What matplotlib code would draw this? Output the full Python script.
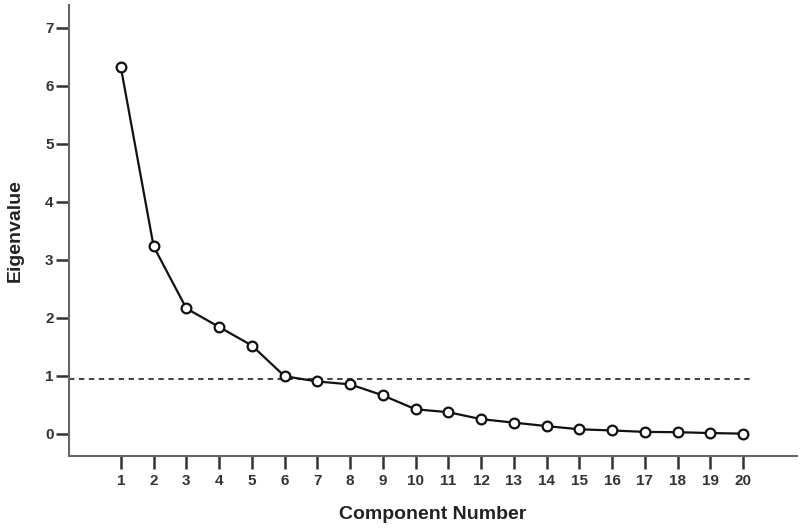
import matplotlib
matplotlib.use("Agg")
import matplotlib.pyplot as plt

plt.rcParams['font.family'] = ['Liberation Sans', 'DejaVu Sans']

# scree plot values
components = list(range(1, 21))
eigenvalues = [6.32, 3.23, 2.16, 1.84, 1.52, 0.99, 0.90, 0.85, 0.66, 0.42,
               0.37, 0.25, 0.19, 0.13, 0.075, 0.055, 0.03, 0.025, 0.01, 0.0]
cutoff = 0.95
y_ticks = list(range(0, 8))

fig = plt.figure(figsize=(8, 5.28), dpi=100)
ax = fig.add_axes([0.086, 0.137, 0.91, 0.853])

ax.axhline(cutoff, xmin=0, xmax=(20.26 + 0.59) / (21.64 + 0.59),
           color='#333333', lw=1.3, ls=(0, (3, 2.5)))
ax.plot(components, eigenvalues, color='#111111', lw=1.6, marker='o',
        markersize=7, markerfacecolor='white', markeredgecolor='#111111',
        markeredgewidth=1.6)

ax.set_xlim(-0.59, 21.64)
ax.set_ylim(-0.38, 7.39)
ax.set_xticks(components)
ax.set_yticks(y_ticks)

for side in ['top', 'right']:
    ax.spines[side].set_visible(False)
for side in ['left', 'bottom']:
    ax.spines[side].set_color('#666666')
    ax.spines[side].set_linewidth(1.5)

ax.tick_params(axis='both', direction='out', length=9.5, width=1.8,
               color='#333333', labelsize=11, labelcolor='#333333')
ax.tick_params(axis='x', pad=3.5)
ax.tick_params(axis='y', pad=1.5)
for lab in ax.get_xticklabels() + ax.get_yticklabels():
    lab.set_fontweight('bold')

ax.set_xlabel('Component Number', fontsize=14, fontweight='bold',
              color='#222222', labelpad=13.5)
ax.set_ylabel('Eigenvalue', fontsize=14, fontweight='bold',
              color='#222222', labelpad=15)

fig.savefig('out.png', dpi=100)
